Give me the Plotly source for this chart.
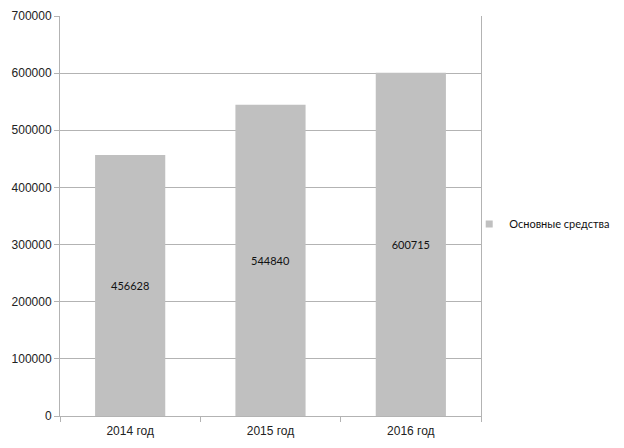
import plotly.graph_objects as go

categories = ["2014 год", "2015 год", "2016 год"]
values = [456628, 544840, 600715]
series_name = "Основные средства"
y_ticks = [0, 100000, 200000, 300000, 400000, 500000, 600000, 700000]

fig = go.Figure()
fig.add_trace(go.Bar(
    x=categories, y=values, name=series_name,
    marker=dict(color="#c0c0c0", line=dict(width=0)),
    text=[str(v) for v in values], textposition="inside",
    insidetextanchor="middle",
    textfont=dict(family="Lato, Carlito, sans-serif", size=11, color="#111111"),
    showlegend=False,
))
# legend entry with a small square symbol
fig.add_trace(go.Scatter(
    x=[None], y=[None], mode="markers", name=series_name,
    marker=dict(symbol="square", size=7, color="#c0c0c0"),
    showlegend=True,
))

fig.update_layout(
    width=624, height=448,
    margin=dict(l=52, r=151, t=8, b=40, autoexpand=False),
    paper_bgcolor="white", plot_bgcolor="white",
    bargap=0.5,
    showlegend=True,
    legend=dict(x=0.972, y=0.48, xanchor="left", yanchor="middle",
                font=dict(family="Lato, Carlito, sans-serif", size=11, color="#111111"),
                itemwidth=30, bgcolor="rgba(0,0,0,0)"),
    font=dict(family="Liberation Sans, Arial, sans-serif", size=12, color="#222222"),
)
fig.update_yaxes(
    range=[0, 700000], tickvals=y_ticks, ticktext=[str(v) for v in y_ticks],
    showgrid=True, gridcolor="#b3b3b3", gridwidth=1,
    showline=True, linecolor="#b3b3b3", linewidth=1, mirror=True,
    ticks="outside", ticklen=5, tickcolor="#b3b3b3",
    zeroline=False, tickfont=dict(size=12), automargin=False,
)
fig.update_xaxes(
    showline=True, linecolor="#b3b3b3", linewidth=1,
    ticks="outside", ticklen=5, tickcolor="#b3b3b3", tickson="boundaries",
    showgrid=False, tickfont=dict(size=12), automargin=False,
    ticklabelstandoff=4,
)

fig.write_html("out.html")
